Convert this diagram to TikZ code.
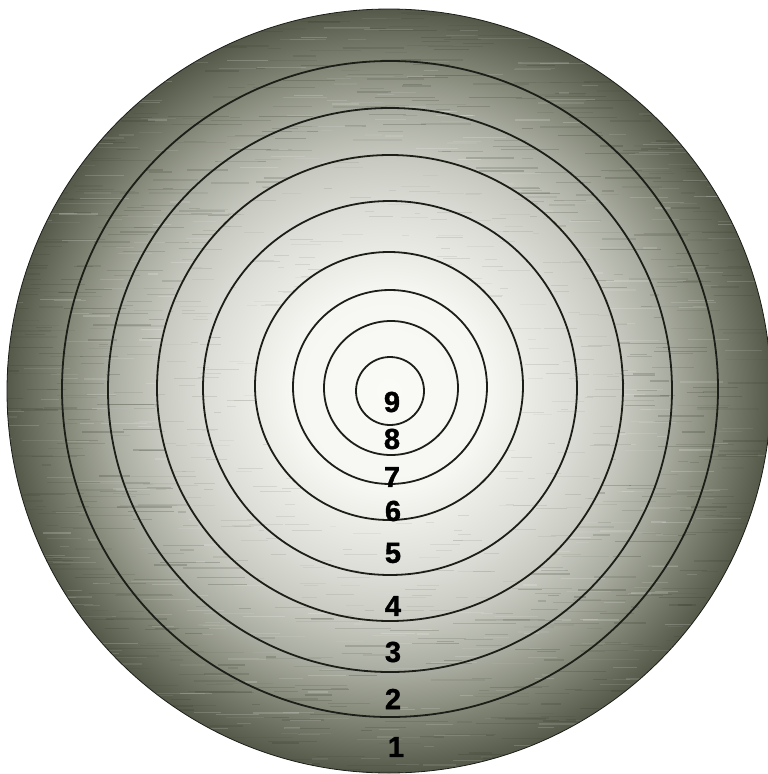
\documentclass[tikz,border=0pt]{standalone}
\usepackage{fontspec}
\setmainfont{Liberation Sans}
\newfontfamily\numfont[FakeBold=1.3]{Liberation Sans Bold}
\definecolor{sc0}{RGB}{250,250,247}
\definecolor{sc1}{RGB}{246,246,242}
\definecolor{sc2}{RGB}{236,236,231}
\definecolor{sc3}{RGB}{219,220,213}
\definecolor{sc4}{RGB}{200,202,193}
\definecolor{sc5}{RGB}{168,171,159}
\definecolor{sc6}{RGB}{130,134,118}
\definecolor{sc7}{RGB}{84,89,74}
\definecolor{ringline}{RGB}{28,30,24}
\definecolor{streakdark}{RGB}{55,60,45}
\pgfdeclareradialshading{target}{\pgfpoint{0bp}{0bp}}{%
  color(0bp)=(sc0); color(6.5bp)=(sc1); color(8.8bp)=(sc2);
  color(12.2bp)=(sc3); color(15.2bp)=(sc4); color(18.5bp)=(sc5);
  color(21.5bp)=(sc6); color(25bp)=(sc7); color(50bp)=(sc7)}
\tikzset{
  ring/.style={draw=ringline, line width=1.8pt},
  num/.style={font=\fontsize{29}{29}\numfont, text=black, inner sep=0pt},
  streak/.style={draw=streakdark, line width=1.3pt},
  streaklight/.style={draw=white, line width=1.2pt}
}
\begin{document}
\begin{tikzpicture}[x=1pt,y=-1pt]
\useasboundingbox (0,0) rectangle (768,774);
\fill[white] (0,0) rectangle (768,774);
% shaded target
\shade[shading=target] (389,391) circle[radius=382pt];
% texture, outer rings
\begin{scope}[even odd rule]
  \clip (389,391) circle[radius=382pt] (390,388) circle[radius=233pt];
  \pgfmathsetseed{7}
  \foreach \i in {1,...,1300}{
    \pgfmathsetmacro{\yy}{rnd*774}
    \pgfmathsetmacro{\xx}{rnd*768-40}
    \pgfmathsetmacro{\ll}{8+rnd*55}
    \pgfmathsetmacro{\op}{0.06+rnd*0.18}
    \draw[streak, opacity=\op] (\xx,\yy) -- ++(\ll,0);
  }
  \foreach \i in {1,...,700}{
    \pgfmathsetmacro{\yy}{rnd*774}
    \pgfmathsetmacro{\xx}{rnd*768-40}
    \pgfmathsetmacro{\ll}{8+rnd*45}
    \pgfmathsetmacro{\op}{0.05+rnd*0.14}
    \draw[streaklight, opacity=\op] (\xx,\yy) -- ++(\ll,0);
  }
\end{scope}
% texture, middle rings
\begin{scope}[even odd rule]
  \clip (390,388) circle[radius=233pt] (389,386) circle[radius=134pt];
  \foreach \i in {1,...,500}{
    \pgfmathsetmacro{\yy}{150+rnd*480}
    \pgfmathsetmacro{\xx}{150+rnd*500-30}
    \pgfmathsetmacro{\ll}{5+rnd*30}
    \pgfmathsetmacro{\op}{0.04+rnd*0.08}
    \draw[streak, opacity=\op, line width=1pt] (\xx,\yy) -- ++(\ll,0);
  }
\end{scope}
% ring lines
\draw[ring] (390,391) circle[radius=34pt];
\draw[ring] (391,388) circle[radius=67pt];
\draw[ring] (390,387) circle[radius=97pt];
\draw[ring] (389,386) circle[radius=134pt];
\draw[ring] (390,388) circle[radius=187pt];
\draw[ring] (390,388) circle[radius=233pt];
\draw[ring] (390,390) circle[radius=282pt];
\draw[ring] (390,389) circle[radius=328pt];
\draw[ringline, line width=0.8pt] (389,391) circle[radius=382pt];
% numbers
\node[num] (d9) at (392,402) {9};
\node[num] (d8) at (392,439) {8};
\node[num] (d7) at (392,477) {7};
\node[num] (d6) at (393,511) {6};
\node[num] (d5) at (393,553) {5};
\node[num] (d4) at (393,606) {4};
\node[num] (d3) at (393,652) {3};
\node[num] (d2) at (393,699) {2};
\node[num] (d1) at (396,747) {1};
\end{tikzpicture}
\end{document}
